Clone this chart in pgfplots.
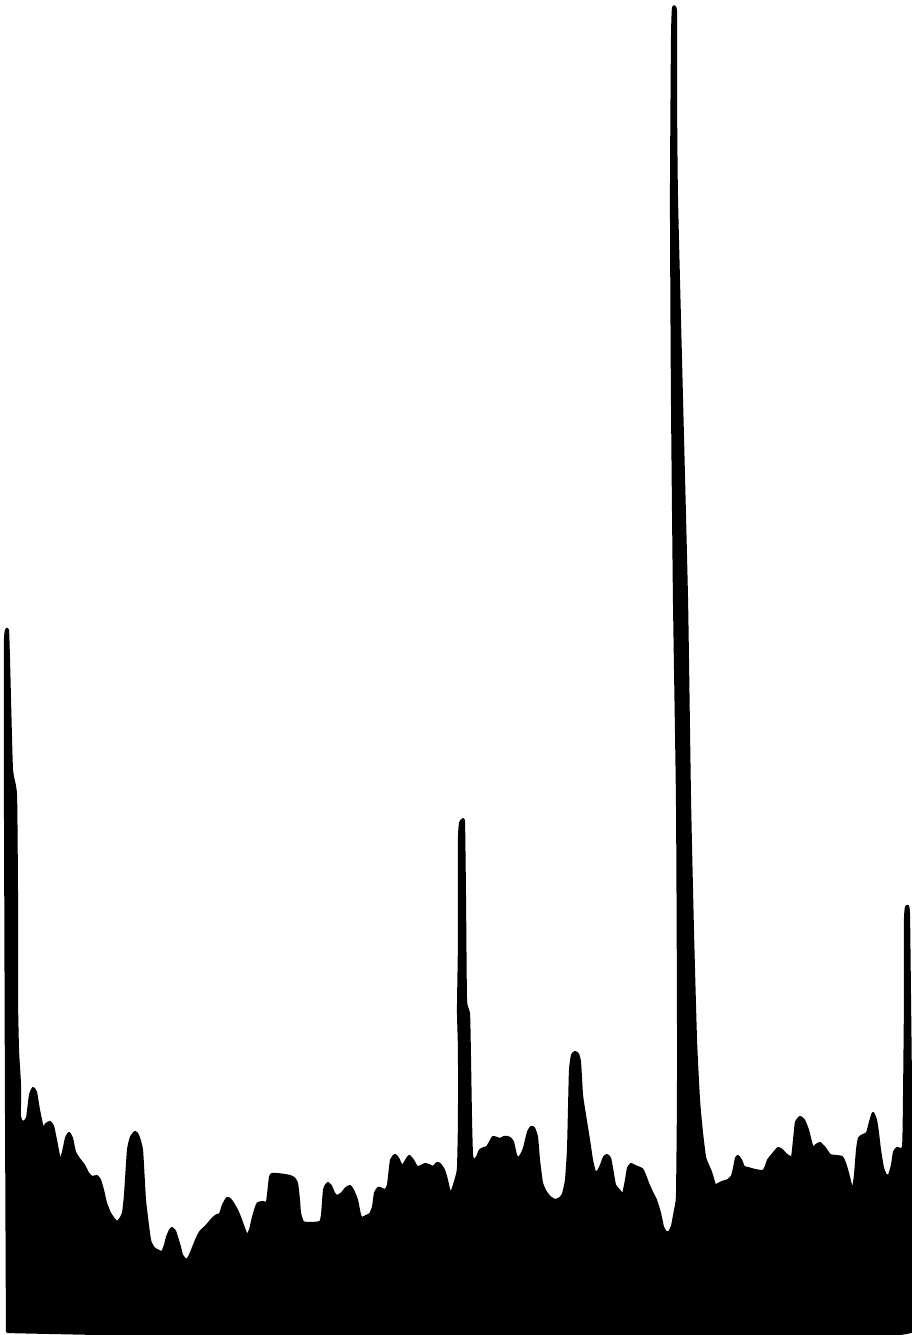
\documentclass[border=0pt]{standalone}
\usepackage{pgfplots}
\pgfplotsset{compat=1.18}
\begin{document}
\begin{tikzpicture}
\begin{axis}[
  width=9.12cm, height=13.35cm, scale only axis,
  xmin=0, xmax=912, ymin=0, ymax=1335, y dir=reverse,
  axis line style={draw=none}, ticks=none,
]
\addplot[fill=black, draw=black, line width=0.6pt, line join=round, smooth, tension=0.3] coordinates {
(7,1332)(6,1100)(5,800)(5,700)(5,640)(6,630)(8,630)(9,660)(10,700)(12,770)(16,795)(17,900)(17,1000)(18,1050)(20,1085)(20,1117)(23,1122)(27,1118)(30,1095)(33,1088)(36,1092)(39,1110)(43,1128)(46,1124)(50,1122)(53,1126)(56,1140)(60,1160)(63,1152)(66,1138)(69,1133)(72,1138)(75,1152)(80,1160)(84,1165)(88,1173)(92,1177)(97,1176)(100,1180)(103,1190)(106,1203)(110,1213)(114,1219)(117,1222)(120,1219)(123,1213)(125,1195)(128,1150)(131,1137)(135,1132)(138,1135)(142,1150)(145,1200)(150,1240)(154,1248)(157,1250)(162,1252)(165,1245)(167,1237)(170,1230)(172,1228)(175,1231)(177,1237)(180,1247)(182,1255)(186,1260)(189,1257)(192,1250)(196,1240)(200,1232)(204,1228)(207,1225)(213,1218)(217,1215)(220,1214)(223,1205)(227,1198)(230,1199)(233,1203)(237,1210)(240,1217)(244,1228)(247,1235)(250,1230)(253,1217)(256,1207)(258,1203)(263,1202)(267,1202)(270,1177)(272,1174)(277,1174)(285,1175)(290,1176)(294,1178)(297,1183)(299,1200)(300,1213)(303,1222)(310,1223)(320,1222)(322,1215)(324,1190)(326,1185)(328,1183)(331,1186)(334,1193)(337,1196)(342,1193)(346,1188)(350,1186)(353,1190)(357,1200)(360,1215)(362,1218)(366,1216)(370,1214)(373,1207)(375,1193)(378,1188)(380,1188)(385,1190)(388,1185)(391,1160)(395,1155)(398,1158)(402,1166)(405,1162)(409,1156)(413,1160)(417,1167)(421,1166)(425,1164)(429,1165)(433,1167)(437,1163)(440,1164)(444,1170)(447,1180)(450,1193)(453,1188)(456,1178)(458,1168)(459,1120)(459,1050)(458,1010)(459,940)(459,840)(460,823)(462,820)(464,823)(465,900)(466,1000)(469,1013)(470,1060)(471,1120)(472,1155)(474,1160)(477,1157)(480,1150)(484,1148)(487,1147)(490,1142)(493,1137)(497,1138)(500,1139)(504,1137)(507,1137)(510,1138)(513,1142)(516,1155)(518,1158)(521,1155)(524,1148)(528,1132)(531,1127)(534,1128)(537,1137)(539,1160)(542,1183)(546,1192)(550,1197)(555,1200)(560,1198)(563,1194)(566,1180)(568,1150)(569,1110)(570,1070)(572,1055)(575,1052)(578,1054)(580,1062)(582,1095)(585,1115)(589,1140)(592,1160)(595,1172)(598,1171)(601,1165)(604,1157)(607,1155)(610,1158)(612,1168)(615,1185)(619,1190)(623,1194)(626,1180)(628,1168)(631,1164)(635,1166)(642,1169)(645,1175)(648,1183)(652,1192)(656,1200)(660,1213)(663,1227)(666,1232)(669,1232)(672,1226)(675,1210)(677,1195)(678,1100)(678,1000)(677,800)(674,600)(672,400)(671,200)(672,40)(673,8)(676,12)(676,100)(677,200)(682,400)(687,600)(690,800)(693,933)(696,1040)(699,1100)(702,1133)(705,1157)(708,1165)(711,1172)(715,1185)(718,1184)(722,1182)(728,1180)(732,1176)(734,1168)(736,1158)(738,1156)(741,1160)(744,1167)(748,1168)(755,1170)(763,1171)(766,1166)(768,1160)(772,1155)(778,1148)(782,1150)(787,1155)(792,1157)(794,1140)(796,1122)(800,1117)(804,1120)(808,1130)(811,1142)(813,1148)(816,1145)(820,1143)(825,1148)(830,1155)(836,1156)(842,1157)(845,1163)(848,1173)(851,1185)(853,1188)(855,1175)(857,1150)(859,1138)(863,1135)(867,1133)(870,1122)(873,1113)(876,1120)(878,1133)(880,1150)(883,1168)(886,1175)(889,1175)(892,1165)(894,1152)(897,1148)(903,1147)(904,1100)(905,1000)(905,920)(906,907)(908,906)(909,915)(910,1000)(911,1100)(911,1332)(7,1332)
};
\end{axis}
\end{tikzpicture}
\end{document}
